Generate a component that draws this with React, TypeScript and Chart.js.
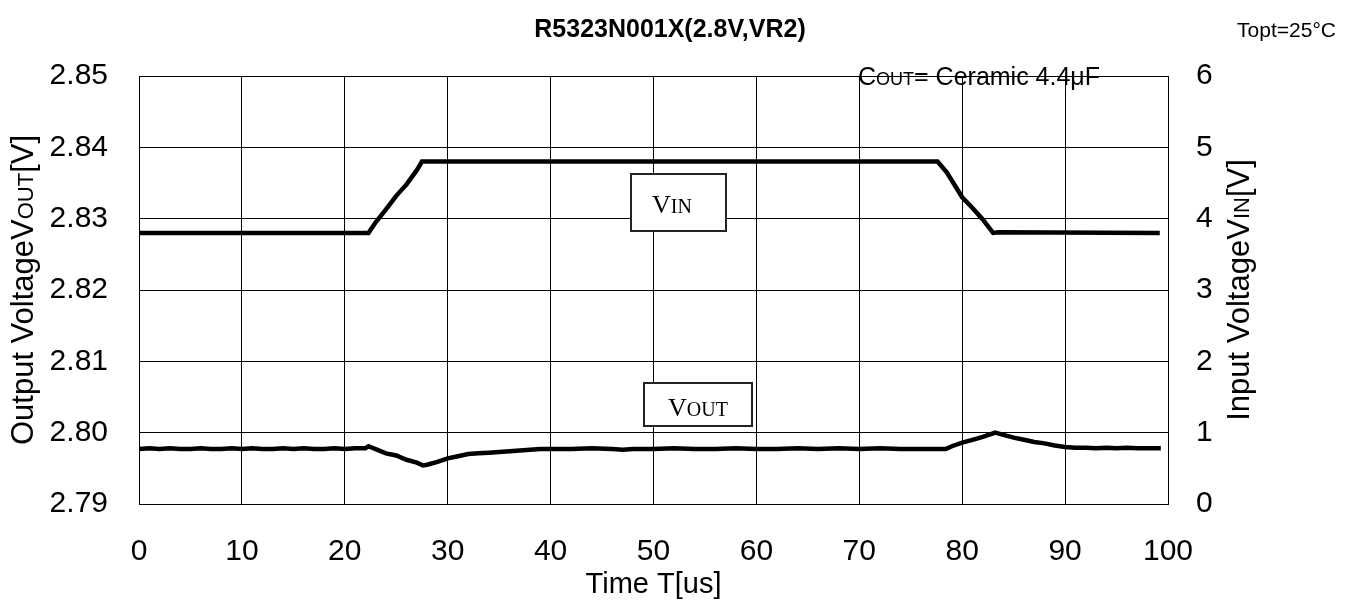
import React, { useEffect, useRef } from "react";
import { Chart, registerables } from "chart.js";

Chart.register(...registerables);

// ---- data ----
const vinTimes = [0, 22.3, 23, 24, 25, 26, 27, 27.5, 77.6, 78.5, 80, 81, 82, 83, 83.5, 99.2];
const vinValues = [3.8, 3.8, 3.95, 4.13, 4.32, 4.48, 4.68, 4.8, 4.8, 4.65, 4.3, 4.15, 3.99, 3.8, 3.81, 3.8];

const voutTimes = [
  0, 1, 2, 3, 4, 5, 6, 7, 8, 9, 10, 11, 12, 13, 14, 15, 16, 17, 18, 19, 20, 21, 22, 22.3, 23, 24, 25, 26, 27,
  27.6, 28, 29, 30, 31, 32, 33, 34, 35, 36, 37, 38, 39, 40, 42, 44, 46, 47, 48, 50, 52, 54, 56, 58, 60, 62, 64,
  66, 68, 70, 72, 74, 76, 77, 78.4, 79, 80, 81, 82, 83, 83.2, 84, 85, 86, 87, 88, 89, 90, 91, 92, 93, 94, 95,
  96, 97, 98, 99.3,
];
const voutValues = [
  2.7977, 2.7978, 2.7977, 2.7978, 2.7977, 2.7977, 2.7978, 2.7977, 2.7977, 2.7978, 2.7977, 2.7978, 2.7977,
  2.7977, 2.7978, 2.7977, 2.7978, 2.7977, 2.7977, 2.7978, 2.7977, 2.7978, 2.7978, 2.7981, 2.7977, 2.7971,
  2.7968, 2.7962, 2.7958, 2.7954, 2.7955, 2.7959, 2.7964, 2.7967, 2.797, 2.7971, 2.7972, 2.7973, 2.7974,
  2.7975, 2.7976, 2.7977, 2.7977, 2.7977, 2.7978, 2.7977, 2.7976, 2.7977, 2.7977, 2.7978, 2.7977, 2.7977,
  2.7978, 2.7977, 2.7977, 2.7978, 2.7977, 2.7978, 2.7977, 2.7978, 2.7977, 2.7977, 2.7977, 2.7977, 2.7981,
  2.7986, 2.799, 2.7994, 2.7999, 2.8, 2.7997, 2.7993, 2.799, 2.7987, 2.7985, 2.7982, 2.798, 2.7979, 2.7979,
  2.7978, 2.7979, 2.7978, 2.7979, 2.7978, 2.7978, 2.7978,
];

const xTicks = [0, 10, 20, 30, 40, 50, 60, 70, 80, 90, 100];
const leftTickLabels = ["2.79", "2.80", "2.81", "2.82", "2.83", "2.84", "2.85"];
const rightTickLabels = ["0", "1", "2", "3", "4", "5", "6"];

const TITLE = "R5323N001X(2.8V,VR2)";
const TOPT = "Topt=25°C";

type Part = { t: string; s: number };

function drawParts(
  ctx: CanvasRenderingContext2D,
  parts: Part[],
  x: number,
  y: number,
  align: "left" | "center" | "right",
  family: string,
  weight = "normal"
) {
  let total = 0;
  const widths = parts.map((p) => {
    ctx.font = `${weight} ${p.s}px ${family}`;
    const w = ctx.measureText(p.t).width;
    total += w;
    return w;
  });
  let cx = align === "left" ? x : align === "center" ? x - total / 2 : x - total;
  ctx.textAlign = "left";
  ctx.textBaseline = "alphabetic";
  parts.forEach((p, i) => {
    ctx.font = `${weight} ${p.s}px ${family}`;
    ctx.fillText(p.t, cx, y);
    cx += widths[i];
  });
}

const SANS = '"Liberation Sans", Arial, sans-serif';
const SERIF = '"Liberation Serif", "Times New Roman", serif';

const overlayPlugin = {
  id: "overlay",
  afterDraw(chart: any) {
    const ctx: CanvasRenderingContext2D = chart.ctx;
    ctx.save();
    ctx.fillStyle = "#000";
    // title
    drawParts(ctx, [{ t: TITLE, s: 25 }], 670, 37, "center", SANS, "bold");
    drawParts(ctx, [{ t: TOPT, s: 21 }], 1336, 37, "right", SANS);
    // Cout note
    drawParts(
      ctx,
      [
        { t: "C", s: 25 },
        { t: "OUT", s: 18 },
        { t: "= Ceramic 4.4μF", s: 25 },
      ],
      858,
      85,
      "left",
      SANS
    );
    // VIN box
    ctx.fillStyle = "#fff";
    ctx.strokeStyle = "#222";
    ctx.lineWidth = 2;
    ctx.fillRect(631, 174, 95, 57);
    ctx.strokeRect(631, 174, 95, 57);
    ctx.fillStyle = "#000";
    drawParts(ctx, [{ t: "V", s: 26 }, { t: "IN", s: 20 }], 672, 213, "center", SERIF);
    // VOUT box
    ctx.fillStyle = "#fff";
    ctx.fillRect(644, 383, 108, 43);
    ctx.strokeRect(644, 383, 108, 43);
    ctx.fillStyle = "#000";
    drawParts(ctx, [{ t: "V", s: 26 }, { t: "OUT", s: 20 }], 698, 416, "center", SERIF);

    // axis titles (rotated)
    const area = chart.chartArea;
    const cy = (area.top + area.bottom) / 2;
    ctx.save();
    ctx.translate(22, cy);
    ctx.rotate(-Math.PI / 2);
    drawParts(
      ctx,
      [
        { t: "Output Voltage", s: 31 },
        { t: "V", s: 31 },
        { t: "OUT", s: 22 },
        { t: "[V]", s: 31 },
      ],
      0,
      11,
      "center",
      SANS
    );
    ctx.restore();
    ctx.save();
    ctx.translate(1238, cy);
    ctx.rotate(-Math.PI / 2);
    drawParts(
      ctx,
      [
        { t: "Input Voltage", s: 31 },
        { t: "V", s: 31 },
        { t: "IN", s: 22 },
        { t: "[V]", s: 31 },
      ],
      0,
      11,
      "center",
      SANS
    );
    ctx.restore();
    ctx.restore();
  },
};

export default function App() {
  const ref = useRef<HTMLCanvasElement | null>(null);
  useEffect(() => {
    if (!ref.current) return;
    const vinData = vinTimes.map((t, i) => ({ x: t, y: vinValues[i] }));
    const voutData = voutTimes.map((t, i) => ({ x: t, y: voutValues[i] }));
    const tickFont = { family: SANS, size: 30 };
    const chart = new Chart(ref.current, {
      type: "line",
      data: {
        datasets: [
          {
            label: "VIN",
            data: vinData,
            yAxisID: "y2",
            borderColor: "#000",
            borderWidth: 4.5,
            pointRadius: 0,
            tension: 0,
          },
          {
            label: "VOUT",
            data: voutData,
            yAxisID: "y",
            borderColor: "#000",
            borderWidth: 4.5,
            pointRadius: 0,
            tension: 0,
          },
        ],
      },
      options: {
        animation: false,
        responsive: false,
        devicePixelRatio: 1,
        layout: { padding: { top: 76, left: 0, right: 0, bottom: 0 } },
        plugins: { legend: { display: false }, tooltip: { enabled: false }, title: { display: false } },
        scales: {
          x: {
            type: "linear",
            min: 0,
            max: 100,
            afterBuildTicks: (s: any) => {
              s.ticks = xTicks.map((v) => ({ value: v }));
            },
            ticks: { font: tickFont, color: "#000", padding: 30, maxRotation: 0, autoSkip: false },
            grid: { color: "#000", lineWidth: 1, drawTicks: false },
            border: { color: "#000", width: 1 },
            title: {
              display: true,
              text: "Time T[us]",
              font: { family: SANS, size: 29 },
              color: "#000",
              padding: { top: 0, bottom: 4 },
            },
            afterFit: (s: any) => {
              s.height = 102;
            },
          },
          y: {
            type: "linear",
            position: "left",
            min: 2.79,
            max: 2.85,
            afterBuildTicks: (s: any) => {
              s.ticks = leftTickLabels.map((l) => ({ value: parseFloat(l) }));
            },
            ticks: {
              font: tickFont,
              color: "#000",
              padding: 31,
              autoSkip: false,
              callback: (_v: any, i: number) => leftTickLabels[i],
            },
            grid: { color: "#000", lineWidth: 1, drawTicks: false },
            border: { color: "#000", width: 1 },
            afterFit: (s: any) => {
              s.width = 139;
            },
          },
          y2: {
            type: "linear",
            position: "right",
            min: 0,
            max: 6,
            afterBuildTicks: (s: any) => {
              s.ticks = rightTickLabels.map((l) => ({ value: parseFloat(l) }));
            },
            ticks: {
              font: tickFont,
              color: "#000",
              padding: 28,
              autoSkip: false,
              callback: (_v: any, i: number) => rightTickLabels[i],
            },
            grid: { display: false, drawTicks: false },
            border: { color: "#000", width: 1 },
            afterFit: (s: any) => {
              s.width = 179;
            },
          },
        },
      },
      plugins: [overlayPlugin],
    } as any);
    return () => chart.destroy();
  }, []);
  return (
    <div style={{ position: "fixed", left: 0, top: 0, width: 1347, height: 606, background: "#fff" }}>
      <canvas ref={ref} width={1347} height={606} style={{ display: "block" }} />
    </div>
  );
}
